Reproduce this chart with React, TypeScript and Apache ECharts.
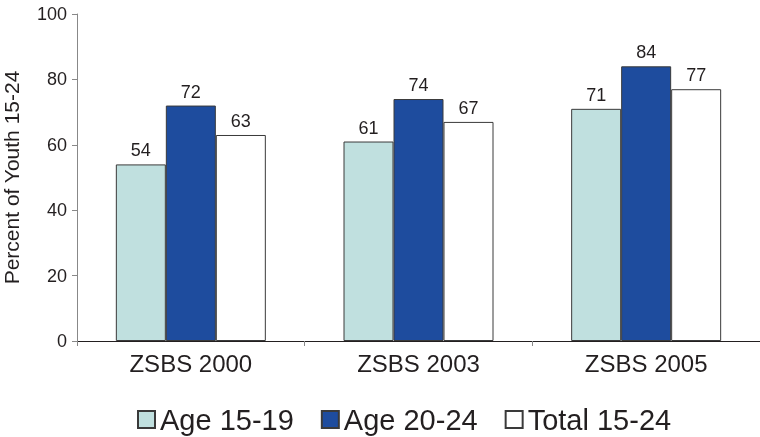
import React, { useEffect, useRef } from "react";
import * as echarts from "echarts";

const categories = ["ZSBS 2000", "ZSBS 2003", "ZSBS 2005"];
const age1519 = [54, 61, 71];
const age2024 = [72, 74, 84];
const total1524 = [63, 67, 77];
const seriesNames = ["Age 15-19", "Age 20-24", "Total 15-24"];
const colors = ["#c0e0df", "#1e4c9e", "#ffffff"];

export default function App() {
  const ref = useRef<HTMLDivElement>(null);
  useEffect(() => {
    const chart = echarts.init(ref.current!, null, { renderer: "svg" });
    const font = "Liberation Sans, Arial, sans-serif";
    const data = [age1519, age2024, total1524];
    chart.setOption({
      animation: false,
      textStyle: { fontFamily: font },
      grid: {
        left: 77,
        right: 0,
        top: 14,
        bottom: 96,
        containLabel: false,
        outerBoundsMode: "none",
      },
      legend: {
        top: 405,
        left: 137,
        padding: 0,
        itemWidth: 17,
        itemHeight: 17,
        itemGap: 27,
        icon: "rect",
        textStyle: { fontSize: 29, color: "#231f20", fontFamily: font },
        data: seriesNames,
      },
      xAxis: {
        type: "category",
        data: categories,
        axisLine: { lineStyle: { color: "#231f20", width: 1 } },
        axisTick: { show: true, length: 5, lineStyle: { color: "#888" } },
        axisLabel: { fontSize: 24, color: "#231f20", margin: 10, fontFamily: font },
      },
      yAxis: {
        type: "value",
        min: 0,
        max: 100,
        interval: 20,
        name: "Percent of Youth 15-24",
        nameLocation: "middle",
        nameGap: 55,
        nameTextStyle: { fontSize: 21, color: "#231f20", fontFamily: font },
        axisLine: { show: true, lineStyle: { color: "#888", width: 1 } },
        axisTick: { show: true, length: 5, lineStyle: { color: "#888" } },
        axisLabel: { fontSize: 18, color: "#231f20", margin: 10, fontFamily: font },
        splitLine: { show: false },
      },
      series: seriesNames.map((name, i) => ({
        name,
        type: "bar",
        data: data[i],
        barWidth: 50,
        barGap: "0%",
        itemStyle: { color: colors[i], borderColor: "#3a3a3a", borderWidth: 1 },
        label: {
          show: true,
          position: "top",
          distance: 5,
          fontSize: 18,
          color: "#231f20",
          fontFamily: font,
        },
      })),
    });
    return () => chart.dispose();
  }, []);
  return (
    <div
      ref={ref}
      style={{ position: "fixed", left: 0, top: 0, width: 760, height: 437 }}
    />
  );
}
